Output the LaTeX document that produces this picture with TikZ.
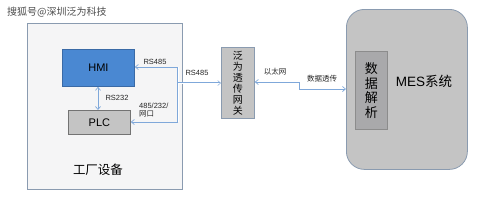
\documentclass[tikz,border=0pt]{standalone}
\usepackage{fontspec}
\setmainfont{Liberation Sans}
\newfontfamily\cjk{Noto Sans CJK SC}
\usetikzlibrary{arrows.meta}
\definecolor{edge}{HTML}{8A9BB0}
\definecolor{lineblue}{HTML}{7FA8DA}
\definecolor{hmiblue}{HTML}{4A88D2}
\definecolor{hmiedge}{HTML}{3A6AA6}
\definecolor{boxgray}{HTML}{C4C4C4}
\definecolor{darkgray}{HTML}{A9A9AB}
\definecolor{bg}{HTML}{F5F5F6}
\begin{document}
\begin{tikzpicture}[x=1pt,y=-1pt,
  box/.style={draw=edge,line width=0.8pt,inner sep=0pt},
  conn/.style={draw=lineblue,line width=0.7pt},
  dconn/.style={draw=lineblue,double=white,double distance=0.8pt,line width=0.45pt},
  tip/.style={-{Straight Barb[length=3pt,width=5pt]}},
  lbl/.style={font=\fontsize{7.5}{8}\selectfont,text=black!85,inner sep=0pt}]
\useasboundingbox (0,0) rectangle (499,210);
\fill[white] (0,0) rectangle (499,210);
% watermark
\node[anchor=west,inner sep=0pt,text=black!70,font=\cjk\fontsize{10}{11}\selectfont] (wm) at (7,12) {搜狐号@深圳泛为科技};
% factory
\node[box,fill=bg,minimum width=155pt,minimum height=166pt,anchor=north west] (factory) at (27,23) {};
\node[inner sep=0pt,font=\cjk\fontsize{12.5}{13}\selectfont] (fl) at (98,170) {工厂设备};
\node[box,draw=hmiedge,fill=hmiblue,minimum width=72pt,minimum height=37pt,anchor=north west,font=\fontsize{11}{12}\selectfont] (hmi) at (62,49) {HMI};
\node[box,draw=black!55,fill=boxgray,minimum width=62pt,minimum height=24pt,anchor=north west,font=\fontsize{11}{12}\selectfont] (plc) at (68,110) {PLC};
% gateway
\node[box,fill=boxgray,minimum width=33pt,minimum height=71pt,anchor=north west] (gw) at (221,47) {};
\node[inner sep=0pt,align=center,font=\cjk\fontsize{10}{11}\selectfont] (gwt) at (gw.center) {泛\\为\\透\\传\\网\\关};
% MES
\node[box,fill=boxgray,rounded corners=18pt,minimum width=121pt,minimum height=160pt,anchor=north west] (mes) at (346,9) {};
\node[box,fill=darkgray,draw=black!45,minimum width=32pt,minimum height=78pt,anchor=north west] (parse) at (355,51) {};
\node[inner sep=0pt,align=center,font=\cjk\fontsize{13}{14.5}\selectfont] (pt) at (parse.center) {数\\据\\解\\析};
\node[inner sep=0pt] (mest) at (424,81) {\fontsize{13.5}{14}\selectfont MES\cjk 系统};
% connectors
\coordinate (jt) at (178,67);
\coordinate (jm) at (178,83);
\coordinate (jb) at (178,122);
\draw[dconn] (jt) -- (jb);
\draw[conn,tip] (jt) -- (hmi.east |- jt);
\draw[conn,tip] (jb) -- (plc.east |- jb);
\draw[dconn,tip] (jm) -- (gw.west |- jm);
\draw[conn,{Straight Barb[length=3pt,width=5pt]}-{Straight Barb[length=3pt,width=5pt]}] (hmi.south -| 98,0) -- (plc.north -| 98,0);
\coordinate (k1) at (299,82);
\coordinate (k2) at (299,89);
\draw[conn,{Straight Barb[length=3pt,width=5pt]}-{Straight Barb[length=3pt,width=5pt]}] (gw.east |- k1) -- (k1) -- (k2) -- (mes.west |- k2);
% labels
\node[lbl] (l1) at (155,62) {RS485};
\node[lbl] (l2) at (197,73) {RS485};
\node[lbl] (l3) at (117,98) {RS232};
\node[lbl,anchor=west,align=left] (l4) at (139,110) {485/232/\\{\cjk 网口}};
\node[lbl,font=\cjk\fontsize{7.5}{8}\selectfont] (l5) at (275,72) {以太网};
\node[lbl,font=\cjk\fontsize{7.5}{8}\selectfont] (l6) at (322,79) {数据透传};
\end{tikzpicture}
\end{document}
